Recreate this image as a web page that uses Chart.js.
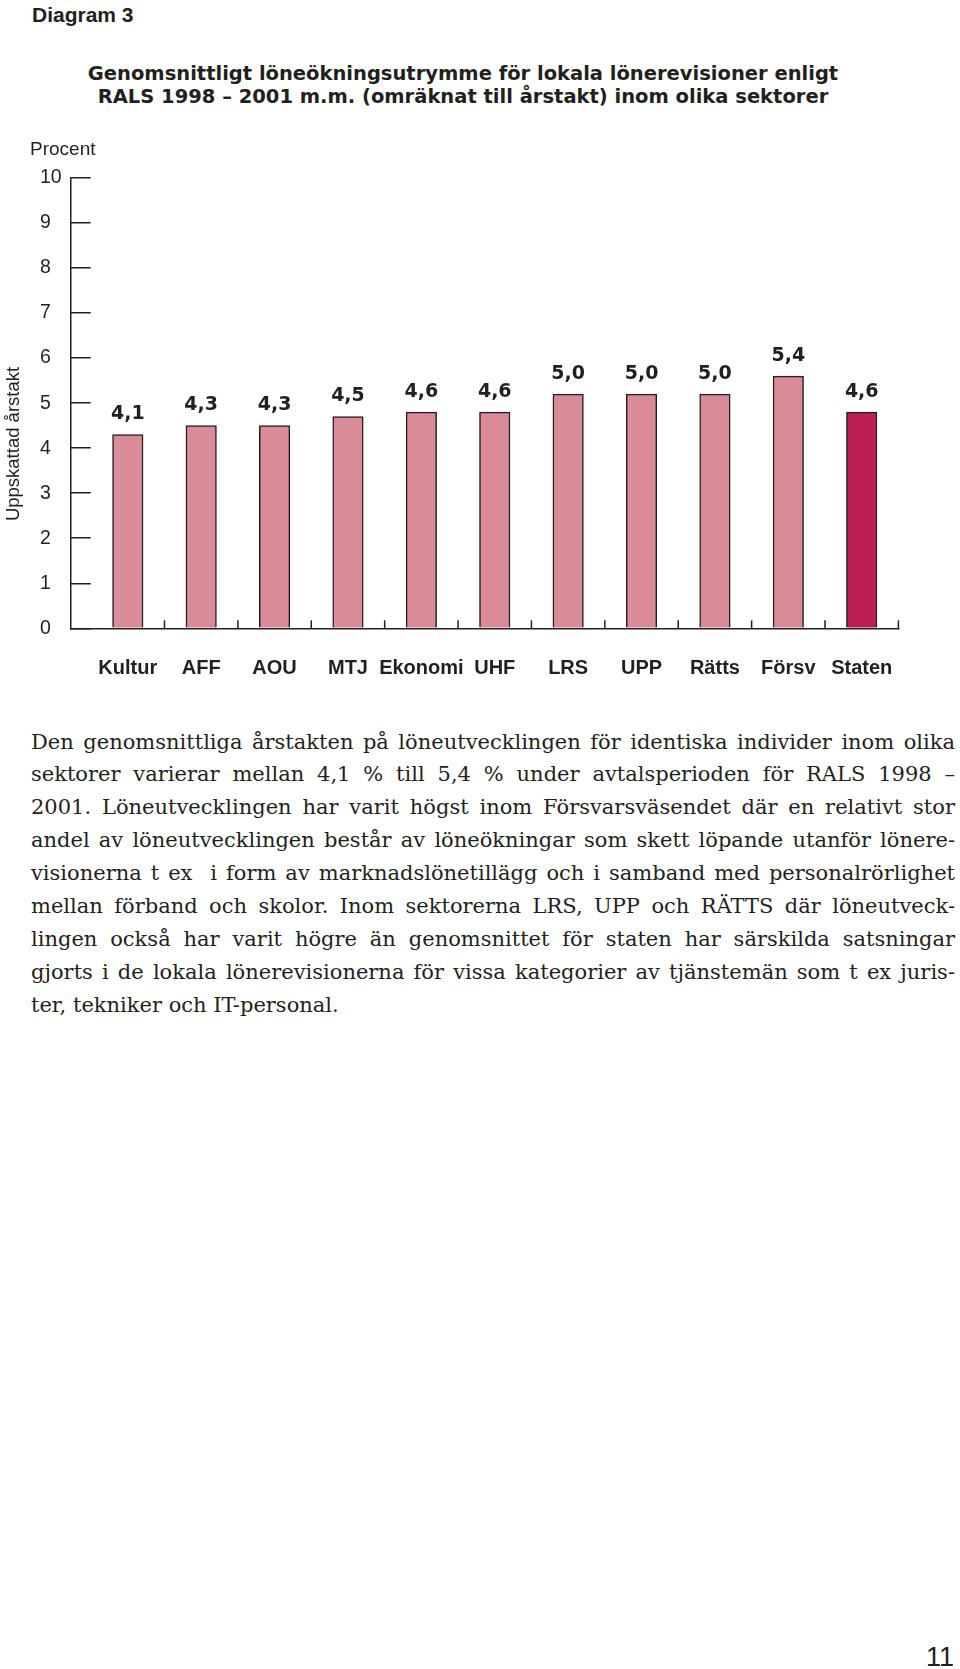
<!DOCTYPE html>
<html>
<head>
<meta charset="utf-8">
<script src="https://cdn.jsdelivr.net/npm/chart.js@4"></script>
<style>
  html, body { margin: 0; padding: 0; background: #ffffff; }
  body { width: 960px; height: 1669px; position: relative; overflow: hidden; color: #231f20; }
  .abs { position: absolute; white-space: nowrap; }
  #para { position: absolute; left: 31px; top: 725.5px; width: 924px; font-family: "DejaVu Serif", serif; font-size: 21px; line-height: 32.9px; }
  #para div { text-align: justify; text-align-last: justify; }
  #para div.last { text-align: left; text-align-last: left; }
</style>
</head>
<body>
<div style="position:absolute;left:0;top:120px;width:960px;height:580px;">
  <canvas id="chart" width="960" height="580"></canvas>
</div>

<div class="abs" style="left:32px;top:3px;font:bold 21px/24px 'Liberation Sans',sans-serif;">Diagram 3</div>
<div class="abs" style="left:0;width:926px;top:61.7px;text-align:center;font:bold 19.5px/23.5px 'DejaVu Sans',sans-serif;">Genomsnittligt löneökningsutrymme för lokala lönerevisioner enligt<br>RALS 1998 – 2001 m.m. (omräknat till årstakt) inom olika sektorer</div>
<div class="abs" style="left:30px;top:138px;font:19px/22px 'Liberation Sans',sans-serif;">Procent</div>
<div class="abs" style="left:-87px;top:434px;width:200px;text-align:center;font:18.5px/20px 'Liberation Sans',sans-serif;transform:rotate(-90deg);">Uppskattad årstakt</div>

<div id="para">
<div>Den genomsnittliga årstakten på löneutvecklingen för identiska individer inom olika</div>
<div>sektorer varierar mellan 4,1 % till 5,4 % under avtalsperioden för RALS 1998 –</div>
<div>2001. Löneutvecklingen har varit högst inom Försvarsväsendet där en relativt stor</div>
<div>andel av löneutvecklingen består av löneökningar som skett löpande utanför lönere-</div>
<div>visionerna t ex &nbsp;i form av marknadslönetillägg och i samband med personalrörlighet</div>
<div>mellan förband och skolor. Inom sektorerna LRS, UPP och RÄTTS där löneutveck-</div>
<div>lingen också har varit högre än genomsnittet för staten har särskilda satsningar</div>
<div>gjorts i de lokala lönerevisionerna för vissa kategorier av tjänstemän som t ex juris-</div>
<div class="last">ter, tekniker och IT-personal.</div>
</div>

<div class="abs" style="left:926px;top:1641px;font:27px/32px 'Liberation Sans',sans-serif;">11</div>

<script>
// ---- data ----
const categories = ["Kultur", "AFF", "AOU", "MTJ", "Ekonomi", "UHF", "LRS", "UPP", "Rätts", "Försv", "Staten"];
// values printed above the bars
const printedValues = [4.1, 4.3, 4.3, 4.5, 4.6, 4.6, 5.0, 5.0, 5.0, 5.4, 4.6];
// bar heights as drawn in the picture (read against the y axis)
const barValues = [4.3, 4.5, 4.5, 4.7, 4.8, 4.8, 5.2, 5.2, 5.2, 5.6, 4.8];
const yTicks = [0, 1, 2, 3, 4, 5, 6, 7, 8, 9, 10];

const ink = "#231f20";
const pink = "#d98b98";
const crimson = "#bb1f56";

const fmt = v => v.toFixed(1).replace(".", ",");

const separatorTicks = {
  id: "separatorTicks",
  afterDatasetsDraw(chart) {
    const xs = chart.scales.x, ys = chart.scales.y, ctx = chart.ctx;
    const base = ys.getPixelForValue(0);
    ctx.save();
    ctx.strokeStyle = ink;
    ctx.lineWidth = 1.5;
    for (let i = 0; i < categories.length; i++) {
      const px = xs.getPixelForValue(i + 0.5);
      ctx.beginPath();
      ctx.moveTo(px, base);
      ctx.lineTo(px, base - 8);
      ctx.stroke();
    }
    ctx.restore();
  }
};

const valueLabels = {
  id: "valueLabels",
  afterDatasetsDraw(chart) {
    const ctx = chart.ctx;
    const meta = chart.getDatasetMeta(0);
    ctx.save();
    ctx.fillStyle = ink;
    ctx.font = "bold 19px 'DejaVu Sans', sans-serif";
    ctx.textAlign = "center";
    ctx.textBaseline = "middle";
    meta.data.forEach((el, i) => {
      ctx.fillText(fmt(printedValues[i]), el.x, el.y - 20.5);
    });
    ctx.restore();
  }
};

Chart.defaults.font.family = "'Liberation Sans', sans-serif";
Chart.defaults.color = ink;

new Chart(document.getElementById("chart"), {
  type: "bar",
  data: {
    datasets: [{
      data: barValues.map((v, i) => ({ x: i, y: v })),
      backgroundColor: ctx => ctx.dataIndex === categories.length - 1 ? crimson : pink,
      borderColor: ink,
      borderWidth: 1.5,
      borderSkipped: "bottom",
      barThickness: 30.5
    }]
  },
  options: {
    responsive: false,
    animation: false,
    devicePixelRatio: 1,
    layout: { padding: { left: 40, right: 61.6, top: 58, bottom: 0 } },
    plugins: { legend: { display: false }, tooltip: { enabled: false }, title: { display: false } },
    scales: {
      x: {
        type: "linear",
        offset: false,
        min: -0.778,
        max: 10.5,
        afterBuildTicks: s => { s.ticks = categories.map((_, i) => ({ value: i })); },
        afterFit: s => { s.height = 71.7; },
        ticks: {
          callback: v => categories[v],
          autoSkip: false,
          maxRotation: 0,
          padding: 28,
          color: ink,
          font: { size: 20, weight: "bold" }
        },
        grid: { display: true, offset: false, drawOnChartArea: false, drawTicks: false, color: ink, lineWidth: 1.5 },
        border: { display: true, color: ink, width: 1.5 }
      },
      y: {
        min: 0,
        max: 10,
        afterBuildTicks: s => { s.ticks = yTicks.map(v => ({ value: v })); },
        afterFit: s => { s.width = 30.7; },
        ticks: { crossAlign: "far", color: ink, font: { size: 19.5 }, padding: 0 },
        grid: { display: true, drawOnChartArea: false, drawTicks: true, tickLength: -20, color: ink, lineWidth: 1.5 },
        border: { display: true, color: ink, width: 1.5 }
      }
    }
  },
  plugins: [separatorTicks, valueLabels]
});
</script>
</body>
</html>
